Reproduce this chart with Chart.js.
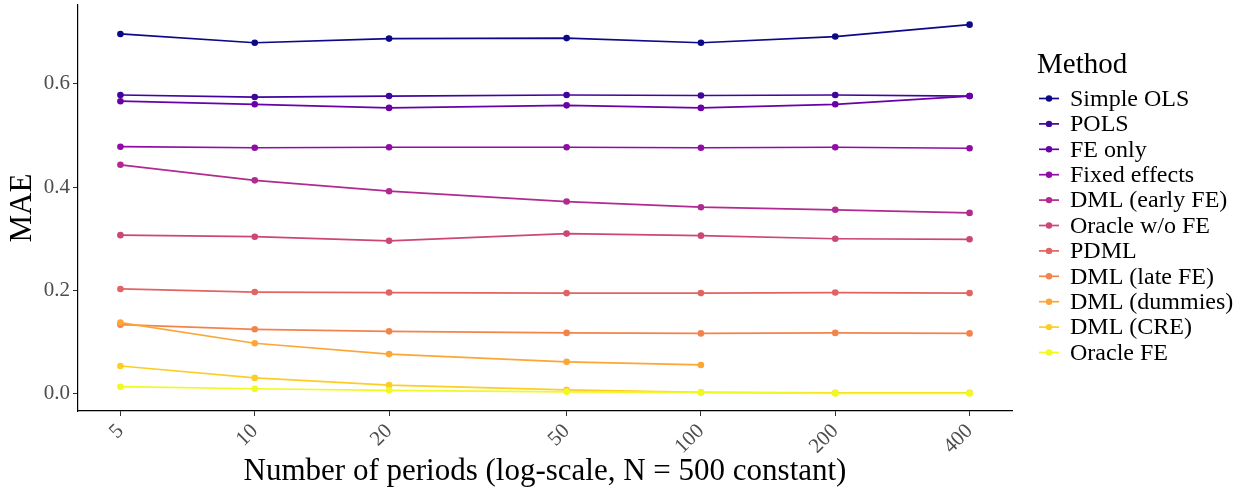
<!DOCTYPE html>
<html lang="en">
<head>
  <meta charset="UTF-8">
  <title>MAE by number of periods</title>
  <script src="https://cdn.jsdelivr.net/npm/chart.js"></script>
  <style>
    html, body { margin: 0; padding: 0; background: #fff; }
    #wrap { width: 1252px; height: 495px; position: relative; }
  </style>
</head>
<body>
  <div id="wrap"><canvas id="chart"></canvas></div>

  <script>
    // number of periods (x, log scale)
    const periods = [5, 10, 20, 50, 100, 200, 400];
    const yTicks = [0, 0.2, 0.4, 0.6];

    const methods = ['Simple OLS', 'POLS', 'FE only', 'Fixed effects', 'DML (early FE)',
      'Oracle w/o FE', 'PDML', 'DML (late FE)', 'DML (dummies)', 'DML (CRE)', 'Oracle FE'];

    // MAE values
    const simpleOls    = [0.696, 0.679, 0.687, 0.688, 0.679, 0.691, 0.714];
    const pols         = [0.578, 0.574, 0.576, 0.578, 0.577, 0.578, 0.576];
    const feOnly       = [0.566, 0.560, 0.553, 0.558, 0.553, 0.560, 0.576];
    const fixedEffects = [0.478, 0.476, 0.477, 0.477, 0.476, 0.477, 0.475];
    const dmlEarlyFe   = [0.443, 0.413, 0.392, 0.372, 0.361, 0.356, 0.350];
    const oracleNoFe   = [0.307, 0.304, 0.296, 0.310, 0.306, 0.300, 0.299];
    const pdml         = [0.203, 0.197, 0.196, 0.195, 0.195, 0.196, 0.195];
    const dmlLateFe    = [0.134, 0.125, 0.121, 0.118, 0.117, 0.118, 0.117];
    const dmlDummies   = [0.138, 0.098, 0.077, 0.062, 0.056, null, null];
    const dmlCre       = [0.054, 0.031, 0.017, 0.008, 0.003, 0.002, 0.002];
    const oracleFe     = [0.014, 0.010, 0.007, 0.004, 0.003, 0.001, 0.001];

    const series = [simpleOls, pols, feOnly, fixedEffects, dmlEarlyFe, oracleNoFe,
      pdml, dmlLateFe, dmlDummies, dmlCre, oracleFe];

    // plasma palette, 11 steps
    const colors = ['#0D0887', '#41049D', '#6A00A8', '#8F0DA4', '#B12A90', '#CC4778',
      '#E16462', '#F2844B', '#FCA636', '#FCCE25', '#F0F921'];

    const serif = "'Liberation Serif', 'DejaVu Serif', serif";

    const datasets = methods.map((m, i) => ({
      label: m,
      data: periods.map((p, j) => ({ x: p, y: series[i][j] })).filter(d => d.y !== null),
      borderColor: colors[i],
      backgroundColor: colors[i],
      borderWidth: 1.7,
      pointRadius: 3.3,
      pointHoverRadius: 3.3,
      pointBorderWidth: 0,
      tension: 0,
      order: methods.length - i
    }));

    // legend drawn by hand, ggplot style
    const legendPlugin = {
      id: 'ggLegend',
      afterDraw(chart) {
        const ctx = chart.ctx;
        ctx.save();
        ctx.fillStyle = '#000';
        ctx.textBaseline = 'middle';
        ctx.textAlign = 'left';
        ctx.font = '29px ' + serif;
        ctx.fillText('Method', 1037, 65);
        ctx.font = '24px ' + serif;
        methods.forEach((m, i) => {
          const y = 98.5 + i * 25.4;
          ctx.strokeStyle = colors[i];
          ctx.lineWidth = 1.7;
          ctx.beginPath();
          ctx.moveTo(1039, y);
          ctx.lineTo(1059, y);
          ctx.stroke();
          ctx.fillStyle = colors[i];
          ctx.beginPath();
          ctx.arc(1049, y, 3.2, 0, Math.PI * 2);
          ctx.fill();
          ctx.fillStyle = '#000';
          ctx.fillText(m, 1070, y + 1);
        });
        ctx.restore();
      }
    };

    new Chart(document.getElementById('chart').getContext('2d'), {
      type: 'line',
      data: { datasets: datasets },
      plugins: [legendPlugin],
      options: {
        responsive: true,
        maintainAspectRatio: false,
        animation: false,
        layout: { padding: { left: 0, right: 240, top: 5, bottom: 0 } },
        plugins: { legend: { display: false }, tooltip: { enabled: false } },
        scales: {
          x: {
            type: 'logarithmic',
            min: 5 / Math.pow(10, 0.0951),
            max: 400 * Math.pow(10, 0.0951),
            afterBuildTicks: s => { s.ticks = periods.map(v => ({ value: v })); },
            afterFit: s => { s.height = 84; },
            grid: { display: true, drawOnChartArea: false, drawTicks: true, tickLength: 5, color: '#333' },
            border: { display: true, color: '#000', width: 1.2 },
            ticks: {
              autoSkip: false,
              minRotation: 45,
              maxRotation: 45,
              padding: 3,
              color: '#4D4D4D',
              font: { family: serif, size: 21 },
              callback: v => String(v)
            },
            title: {
              display: true,
              text: 'Number of periods (log-scale, N = 500 constant)',
              color: '#000',
              font: { family: serif, size: 31, lineHeight: 1 },
              padding: { top: 0, bottom: 8 }
            }
          },
          y: {
            type: 'linear',
            min: -0.033,
            max: 0.752,
            afterBuildTicks: s => { s.ticks = yTicks.map(v => ({ value: v })); },
            afterFit: s => { s.width = 78; s.paddingTop = 0; s.paddingBottom = 0; },
            grid: { display: true, drawOnChartArea: false, drawTicks: true, tickLength: 5, color: '#333' },
            border: { display: true, color: '#000', width: 1.2 },
            ticks: {
              padding: 3,
              color: '#4D4D4D',
              font: { family: serif, size: 21 },
              callback: v => v.toFixed(1)
            },
            title: {
              display: true,
              text: 'MAE',
              color: '#000',
              font: { family: serif, size: 31, lineHeight: 1 },
              padding: { top: 7, bottom: 0 }
            }
          }
        }
      }
    });
  </script>
</body>
</html>
